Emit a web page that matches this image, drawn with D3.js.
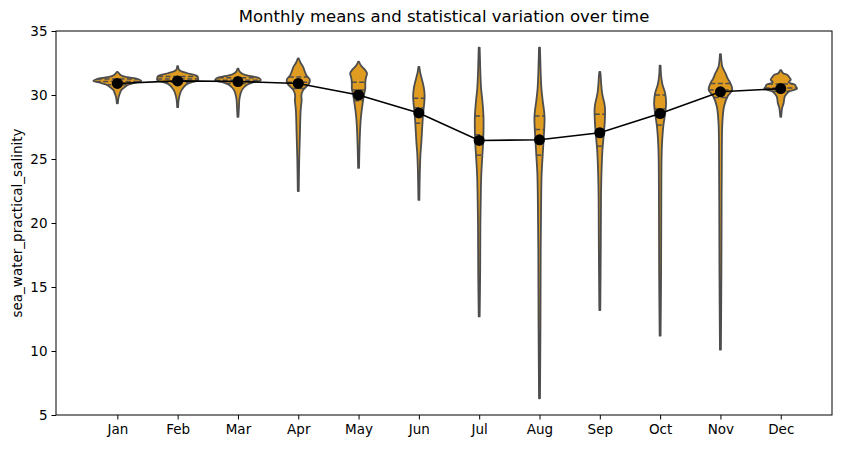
<!DOCTYPE html>
<html>
<head>
<meta charset="utf-8">
<script src="https://cdn.jsdelivr.net/npm/d3@7"></script>
<style>
  body { margin: 0; background: #fff; }
  text { font-family: "DejaVu Sans", sans-serif; }
</style>
</head>
<body>
<div id="draw"></div>
<script>
var months = ['Jan','Feb','Mar','Apr','May','Jun','Jul','Aug','Sep','Oct','Nov','Dec'];
var means = [30.9, 31.1, 31.05, 30.9, 30.0, 28.6, 26.45, 26.5, 27.05, 28.55, 30.25, 30.5];
var yTicks = [5, 10, 15, 20, 25, 30, 35];

// quartiles [q1, median, q3] per month
var quartiles = [
  [30.8, 31.05, 31.25],
  [31.0, 31.25, 31.45],
  [30.9, 31.15, 31.35],
  [30.5, 31.0, 31.4],
  [29.55, 30.4, 31.0],
  [27.8, 29.0, 29.75],
  [25.3, 26.9, 28.35],
  [25.3, 27.3, 28.35],
  [26.0, 27.3, 28.5],
  [27.65, 28.9, 30.0],
  [29.8, 30.4, 30.9],
  [30.3, 30.55, 30.85]
];

// density profiles: [salinity, relative width]
var profJan = [[29.35,0.02],[29.8,0.05],[30.1,0.1],[30.4,0.17],[30.6,0.3],[30.8,0.45],[30.95,0.7],[31.1,1.0],[31.25,0.85],[31.4,0.4],[31.55,0.15],[31.8,0.02]];
var profFeb = [[29.05,0.02],[29.6,0.04],[30.1,0.1],[30.4,0.17],[30.8,0.35],[31.0,0.6],[31.15,0.85],[31.35,0.85],[31.5,0.8],[31.7,0.4],[31.85,0.15],[32.0,0.05],[32.25,0.02]];
var profMar = [[28.3,0.02],[29.0,0.04],[29.8,0.07],[30.4,0.17],[30.8,0.38],[31.0,0.65],[31.15,0.95],[31.3,0.9],[31.45,0.6],[31.6,0.25],[31.8,0.08],[32.05,0.02]];
var profApr = [[22.5,0.02],[25,0.04],[27,0.07],[28.8,0.1],[29.6,0.14],[30.0,0.13],[30.4,0.21],[30.9,0.45],[31.2,0.48],[31.5,0.35],[31.8,0.28],[32.2,0.2],[32.5,0.1],[32.85,0.02]];
var profMay = [[24.3,0.02],[26,0.04],[27.5,0.07],[28.3,0.1],[29.35,0.17],[30.13,0.24],[30.5,0.28],[30.9,0.28],[31.3,0.3],[31.7,0.35],[32.0,0.25],[32.3,0.1],[32.6,0.02]];
var profJun = [[21.8,0.02],[24,0.04],[25.5,0.07],[26.2,0.1],[27.5,0.14],[28.6,0.18],[29.3,0.22],[29.9,0.24],[30.4,0.22],[30.9,0.17],[31.4,0.1],[31.8,0.05],[32.2,0.02]];
var profJul = [[12.7,0.02],[16,0.04],[20,0.05],[22.5,0.07],[23.9,0.09],[25.2,0.13],[26.5,0.17],[28.3,0.18],[29.6,0.13],[30.5,0.08],[31.7,0.05],[33.0,0.03],[33.7,0.02]];
var profAug = [[6.3,0.02],[12,0.04],[18,0.05],[22,0.07],[23.9,0.09],[25.2,0.13],[26.5,0.17],[28.3,0.21],[29.6,0.13],[30.5,0.08],[31.7,0.05],[33.0,0.03],[33.7,0.02]];
var profSep = [[13.2,0.02],[18,0.04],[22,0.05],[23.9,0.07],[25.7,0.11],[27.0,0.17],[28.05,0.21],[29.1,0.21],[30.1,0.1],[30.8,0.06],[31.4,0.04],[31.8,0.02]];
var profOct = [[11.2,0.02],[16,0.04],[22,0.05],[25,0.06],[26.2,0.08],[27.5,0.13],[28.57,0.21],[29.35,0.25],[30.13,0.21],[30.8,0.1],[31.2,0.06],[31.8,0.03],[32.3,0.02]];
var profNov = [[10.1,0.02],[16,0.04],[22,0.05],[26,0.06],[27.8,0.08],[29.1,0.15],[29.9,0.3],[30.4,0.49],[30.9,0.42],[31.3,0.3],[31.7,0.21],[32.2,0.08],[32.7,0.04],[33.2,0.02]];
var profDec = [[28.3,0.02],[29.0,0.06],[29.35,0.12],[29.9,0.17],[30.26,0.33],[30.5,0.68],[30.65,0.63],[30.8,0.6],[31.0,0.33],[31.2,0.42],[31.4,0.35],[31.56,0.28],[31.7,0.1],[31.95,0.02]];
var profiles = [profJan, profFeb, profMar, profApr, profMay, profJun, profJul, profAug, profSep, profOct, profNov, profDec];

var W = 842, H = 449;
var mLeft = 56, mRight = 832, mTop = 31, mBottom = 415;

var fill = '#df9c20';
var gray = '#4d4d4d';

var svg = d3.select('#draw').append('svg').attr('width', W).attr('height', H);

var x = d3.scaleLinear().domain([-1.017, 11.85]).range([mLeft, mRight]);
var y = d3.scaleLinear().domain([5, 35]).range([mBottom, mTop]);
var w = d3.scaleLinear().domain([0, 1]).range([0, 24]); // half width

// interpolate profile width at a value
function widthAt(prof, v) {
  for (var i = 0; i < prof.length - 1; i++) {
    if (v >= prof[i][0] && v <= prof[i+1][0]) {
      var t = (v - prof[i][0]) / (prof[i+1][0] - prof[i][0]);
      return prof[i][1] + t * (prof[i+1][1] - prof[i][1]);
    }
  }
  return 0;
}

// violins
profiles.forEach(function(prof, i) {
  var cx = x(i);
  var area = d3.area()
    .y(function(d) { return y(d[0]); })
    .x0(function(d) { return cx - w(d[1]); })
    .x1(function(d) { return cx + w(d[1]); })
    .curve(d3.curveCatmullRom.alpha(0.5));
  svg.append('path')
    .attr('d', area(prof))
    .attr('fill', fill)
    .attr('stroke', gray)
    .attr('stroke-width', 1.8)
    .attr('stroke-linejoin', 'round');

  quartiles[i].forEach(function(q) {
    var hw = w(widthAt(prof, q));
    svg.append('line')
      .attr('x1', cx - hw).attr('x2', cx + hw)
      .attr('y1', y(q)).attr('y2', y(q))
      .attr('stroke', gray)
      .attr('stroke-width', 1.5)
      .attr('stroke-dasharray', '5,2.5');
  });
});

// mean line and points
var line = d3.line()
  .x(function(d, i) { return x(i); })
  .y(function(d) { return y(d); });
svg.append('path')
  .attr('d', line(means))
  .attr('fill', 'none')
  .attr('stroke', 'black')
  .attr('stroke-width', 1.6);

svg.selectAll('.mean').data(means).enter().append('circle')
  .attr('class', 'mean')
  .attr('cx', function(d, i) { return x(i); })
  .attr('cy', function(d) { return y(d); })
  .attr('r', 5.5)
  .attr('fill', 'black');

// frame
svg.append('rect')
  .attr('x', mLeft).attr('y', mTop)
  .attr('width', mRight - mLeft).attr('height', mBottom - mTop)
  .attr('fill', 'none').attr('stroke', 'black').attr('stroke-width', 1);

// axes
var xAxis = d3.axisBottom(x)
  .tickValues(d3.range(months.length))
  .tickFormat(function(d) { return months[d]; })
  .tickSize(4.5).tickPadding(5);
var gx = svg.append('g').attr('transform', 'translate(0,' + mBottom + ')').call(xAxis);
gx.select('.domain').remove();

var yAxis = d3.axisLeft(y).tickValues(yTicks).tickSize(4.5).tickPadding(4);
var gy = svg.append('g').attr('transform', 'translate(' + mLeft + ',0)').call(yAxis);
gy.select('.domain').remove();

svg.selectAll('.tick text')
  .attr('font-family', '"DejaVu Sans", sans-serif')
  .attr('font-size', 13.5)
  .attr('fill', 'black');
svg.selectAll('.tick line').attr('stroke', 'black');

// title and label
svg.append('text')
  .attr('x', (mLeft + mRight) / 2)
  .attr('y', 22)
  .attr('text-anchor', 'middle')
  .attr('font-size', 16.5)
  .attr('fill', 'black')
  .text('Monthly means and statistical variation over time');

svg.append('text')
  .attr('transform', 'translate(22,' + ((mTop + mBottom) / 2) + ') rotate(-90)')
  .attr('text-anchor', 'middle')
  .attr('font-size', 13.5)
  .attr('fill', 'black')
  .text('sea_water_practical_salinity');
</script>
</body>
</html>
